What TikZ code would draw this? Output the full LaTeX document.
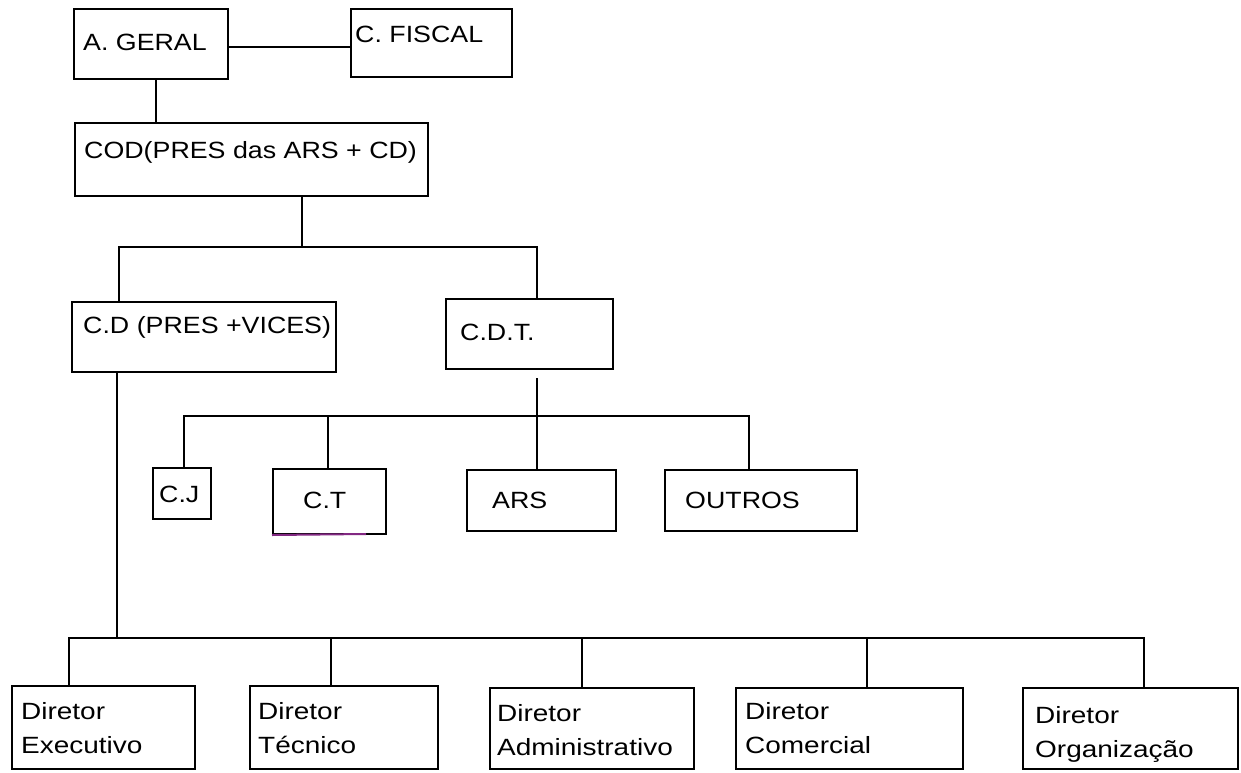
\documentclass[tikz,border=0pt]{standalone}
\usepackage{fontspec}
\setmainfont{Liberation Sans}[FakeStretch=1.14]
\newfontfamily\dirfont{Liberation Sans}[FakeStretch=1.19]
\definecolor{purp}{RGB}{130,40,130}
\newcommand\mybox[5]{%
  \pgfmathsetmacro\bxw{#4-#2}\pgfmathsetmacro\bxh{#5-#3}%
  \pgfmathsetmacro\bxx{(#2+#4)/2}\pgfmathsetmacro\bxy{(#3+#5)/2}%
  \node[box,minimum width=\bxw pt,minimum height=\bxh pt] (#1) at (\bxx,\bxy) {};}
\begin{document}
\begin{tikzpicture}[x=1pt,y=-1pt,
  box/.style={draw=black,line width=2pt,inner sep=0pt},
  lbl/.style={inner sep=0pt,anchor=base west,font=\fontsize{23.5}{28}\selectfont},
  dlbl/.style={inner sep=0pt,anchor=base west,font=\dirfont\fontsize{23.5}{28}\selectfont},
  conn/.style={draw=black,line width=2pt}]
\useasboundingbox[fill=white] (0,0) rectangle (1241,772);
% boxes
\mybox{ag}{74}{9}{228}{79}
\mybox{cf}{351}{9}{512}{77}
\mybox{cod}{75}{123}{428}{196}
\mybox{cd}{72}{302}{336}{372}
\mybox{cdt}{446}{299}{613}{369}
\mybox{cj}{153}{468}{211}{519}
\mybox{ct}{273}{469}{386}{534}
\mybox{ars}{467}{470}{616}{531}
\mybox{out}{665}{470}{857}{531}
\mybox{dex}{12}{686}{195}{769}
\mybox{dte}{250}{686}{438}{769}
\mybox{dad}{490}{688}{694}{769}
\mybox{dco}{736}{688}{963}{769}
\mybox{dor}{1023}{688}{1238}{769}
\draw[line width=2pt,purp] (ct.south west) -- (366,534);
% labels
\node[lbl] (tag) at (83,50) {A. GERAL};
\node[lbl] (tcf) at (355,42) {C. FISCAL};
\node[lbl] (tcod) at (84,158) {COD(PRES das ARS + CD)};
\node[lbl] (tcd) at (83,333) {C.D (PRES +VICES)};
\node[lbl] (tcdt) at (460,340) {C.D.T.};
\node[lbl] (tcj) at (159,502) {C.J};
\node[lbl] (tct) at (303,508) {C.T};
\node[lbl] (tars) at (492,508) {ARS};
\node[lbl] (tout) at (685,508) {OUTROS};
\node[dlbl] (tdex1) at (21,719) {Diretor};
\node[dlbl] (tdex2) at (21,753) {Executivo};
\node[dlbl] (tdte1) at (258,719) {Diretor};
\node[dlbl] (tdte2) at (258,753) {Técnico};
\node[dlbl] (tdad1) at (497,721) {Diretor};
\node[dlbl] (tdad2) at (497,755) {Administrativo};
\node[dlbl] (tdco1) at (745,719) {Diretor};
\node[dlbl] (tdco2) at (745,753) {Comercial};
\node[dlbl] (tdor1) at (1035,723) {Diretor};
\node[dlbl] (tdor2) at (1035,757) {Organização};
% connectors
\coordinate (j1) at (0,47);
\draw[conn] (ag.east |- j1) -- (cf.west |- j1);
\draw[conn] (ag.south -| 156,0) -- (cod.north -| 156,0);
\draw[conn] (cod.south -| 302,0) -- (302,247);
\draw[conn] (cd.north -| 119,0) -- (119,247) -- (537,247) -- (cdt.north -| 537,0);
\coordinate (cdtstub) at (537,378);
\draw[conn] (cdtstub) -- (537,416);
\draw[conn] (cj.north -| 184,0) -- (184,416) -- (749,416) -- (out.north -| 749,0);
\draw[conn] (ct.north -| 328,0) -- (328,416);
\draw[conn] (ars.north -| 537,0) -- (537,416);
\draw[conn] (cd.south -| 117,0) -- (117,638);
\draw[conn] (dex.north -| 69,0) -- (69,638) -- (1144,638) -- (dor.north -| 1144,0);
\draw[conn] (dte.north -| 331,0) -- (331,638);
\draw[conn] (dad.north -| 582,0) -- (582,638);
\draw[conn] (dco.north -| 867,0) -- (867,638);
\end{tikzpicture}
\end{document}
